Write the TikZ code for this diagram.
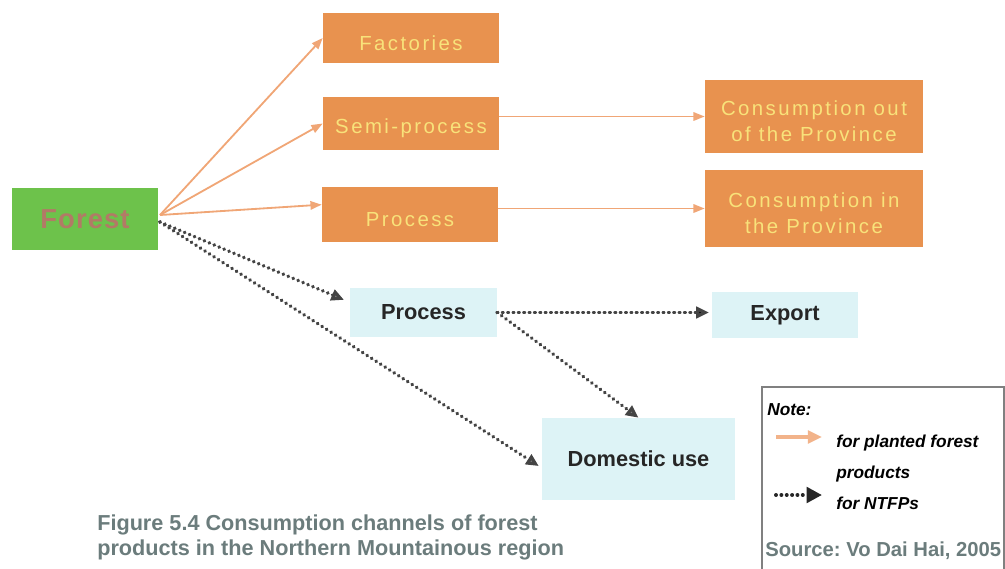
\documentclass[tikz,border=0pt]{standalone}
\usepackage{fontspec}
\setmainfont{Liberation Sans}
\newfontfamily\spaced[LetterSpace=12]{Liberation Sans}
\newfontfamily\spacedb[LetterSpace=4]{Liberation Sans Bold}
\usetikzlibrary{arrows.meta}
\definecolor{leaf}{HTML}{6DC24B}
\definecolor{bark}{HTML}{B27A66}
\definecolor{tangerine}{HTML}{E8924F}
\definecolor{lemon}{HTML}{F8E27A}
\definecolor{peach}{HTML}{F0A676}
\definecolor{ice}{HTML}{DDF3F6}
\definecolor{slate}{HTML}{6B7C7C}
\definecolor{soot}{HTML}{444444}
\newcommand\lowtxt[1]{\raisebox{-3.5pt}[\height][\depth]{#1}}
\frenchspacing
\begin{document}
\begin{tikzpicture}[x=0.025cm,y=-0.025cm,
	box/.style={inner sep=0pt,align=center},
	orbox/.style={box,fill=tangerine,text=lemon,font=\spaced\fontsize{14.5}{18.5}\selectfont},
	icebox/.style={box,fill=ice,text=black!85,font=\bfseries\fontsize{15.5}{18}\selectfont},
	planted/.style={draw=peach,line width=1.3pt,-{Triangle[length=8pt,width=6pt]}},
	ntfp/.style={draw=soot,line width=2.8pt,line cap=round,dash pattern=on 0.01pt off 3.8pt,-{Triangle[length=9pt,width=8pt,fill=gray,line cap=butt]}},
	ntfpb/.style={ntfp,-{Triangle[length=9pt,width=8pt,fill=black]}},
	notetxt/.style={anchor=base west,inner sep=0pt,font=\bfseries\itshape\fontsize{12.3}{14}\selectfont}]
	\useasboundingbox (0,0) rectangle (1005,568);
	% boxes
	\node[box,fill=leaf,text=bark,font=\spacedb\fontsize{19.5}{22}\selectfont,minimum width=3.65cm,minimum height=1.55cm] (forest) at (85,219) {Forest};
	\node[orbox,minimum width=4.4cm,minimum height=1.25cm] (fact) at (411,38) {\lowtxt{Factories}};
	\node[orbox,minimum width=4.4cm,minimum height=1.33cm] (semi) at (411,123.5) {\lowtxt{Semi-process}};
	\node[orbox,minimum width=4.4cm,minimum height=1.38cm] (proc) at (410,214.5) {\lowtxt{Process}};
	\node[orbox,minimum width=5.45cm,minimum height=1.83cm] (cout) at (814,116.5) {\lowtxt{Consumption out}\\\lowtxt{of the Province}};
	\node[orbox,minimum width=5.45cm,minimum height=1.93cm] (cin) at (814,208.5) {\lowtxt{Consumption in}\\\lowtxt{the Province}};
	\node[icebox,minimum width=3.68cm,minimum height=1.23cm] (nproc) at (423.5,312.5) {Process};
	\node[icebox,minimum width=3.65cm,minimum height=1.15cm] (export) at (785,315) {Export};
	\node[icebox,minimum width=4.83cm,minimum height=2.05cm] (dom) at (638.5,459) {Domestic use};
	% planted forest products
	\coordinate (fo) at (160,215);
	\coordinate (fd) at (160,222);
	\draw[planted] (fo) -- (fact.west);
	\draw[planted] (fo) -- (semi.west);
	\draw[planted] (fo) -- ([yshift=7pt]proc.west);
	\draw[planted] (semi.east |- cout.west) -- (cout.west);
	\draw[planted] (proc.east |- cin.west) -- (cin.west);
	% NTFPs
	\draw[ntfp] (fd) -- ([xshift=-4pt,yshift=9pt]nproc.west);
	\draw[ntfp] (fd) -- ([xshift=-2pt,yshift=-5pt]dom.west);
	\draw[ntfpb] (nproc.east) -- ([xshift=-2pt]nproc.east -| export.west);
	\draw[ntfp] (nproc.east) -- (dom.north);
	% note
	\draw[gray,line width=1.2pt] (762,575) -- (762,387) -- (1004,387) -- (1004,575);
	\node[notetxt] (note) at (767,415) {Note:};
	\coordinate (la) at (776,437);
	\coordinate (lb) at (822,437);
	\coordinate (lc) at (776,495);
	\coordinate (ld) at (822,495);
	\draw[peach!85,line width=2.4pt,-{Triangle[length=10pt,width=9pt]}] (la) -- (lb);
	\draw[ntfpb,draw=black!85,-{Triangle[length=11pt,width=11pt,fill=black!85]}] (lc) -- (ld);
	\node[notetxt] (l1) at (836,447) {for planted forest};
	\node[notetxt] (l2) at (836,478) {products};
	\node[notetxt] (l3) at (836,509) {for NTFPs};
	\node[anchor=base west,inner sep=0pt,text=slate,font=\bfseries\fontsize{14.4}{16}\selectfont] (src) at (765,556) {Source: Vo Dai Hai, 2005};
	% caption
	\node[anchor=base west,inner sep=0pt,align=left,text=slate,font=\bfseries\fontsize{15.4}{17.4}\selectfont] (cap) at (97,555) {Figure 5.4 Consumption channels of forest\\products in the Northern Mountainous region};
\end{tikzpicture}
\end{document}
